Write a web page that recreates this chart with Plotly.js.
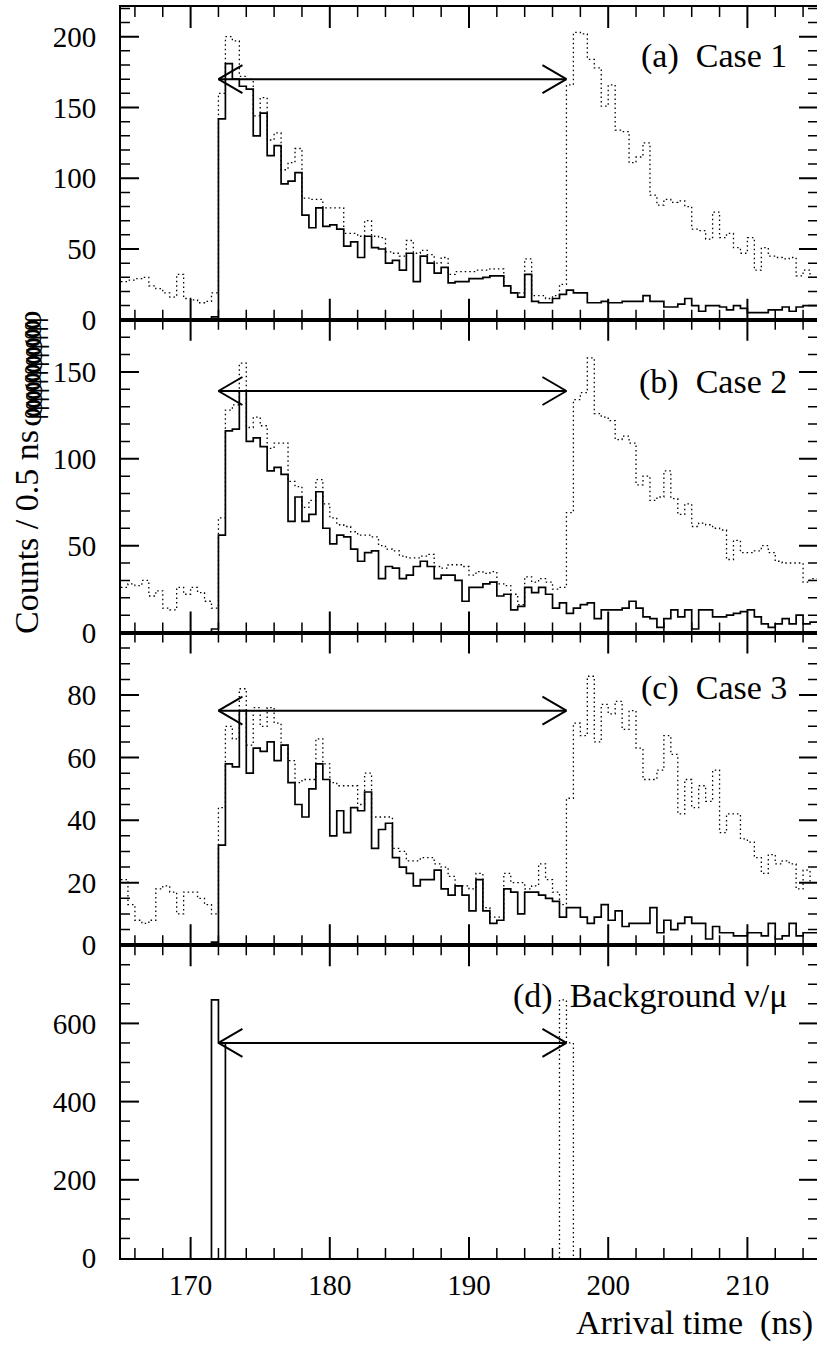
<!DOCTYPE html>
<html><head><meta charset="utf-8">
<script src="https://cdn.plot.ly/plotly-3.0.1.min.js"></script>
<style>
html,body{margin:0;padding:0;background:#fff}
#chart{width:817px;height:1349px}
#chart text{font-family:'Liberation Serif',serif !important}
</style>
</head><body><div id="chart"></div>
<script>
// ---- data (counts per 0.5 ns bin) ----
const binWidth = 0.5;
const timeRange = [165, 215];
const solidStart = 171.5;   // first bin edge of solid histograms (a-c)
const dottedStart = 165;    // first bin edge of dotted histograms (a-c)

const solidA = [2,142,181,170,165,163,130,146,116,
  123,96,98,104,74,65,79,66,67,64,
  52,55,44,59,51,50,40,42,35,47,
  27,45,40,33,37,26,27,27,29,29,
  30,31,31,24,19,16,32,13,12,12,
  15,18,21,19,19,12,12,13,12,12,
  13,13,13,17,13,13,9,9,11,15,
  10,6,10,10,9,7,10,8,5,5,
  5,7,7,9,6,9,10,10];
const dottedA = [27,28,29,30,24,22,19,16,32,15,
  14,12,13,19,160,200,197,172,170,144,
  157,127,132,106,111,121,86,85,85,79,
  79,79,61,61,59,70,59,58,48,47,
  45,56,47,49,46,40,44,32,34,34,
  34,35,35,36,36,24,19,19,43,17,
  17,15,17,25,166,203,202,184,178,151,
  166,134,133,111,115,125,88,81,85,83,
  84,80,64,63,57,76,58,61,51,47,
  58,35,51,45,44,43,44,31,35,30];

const solidB = [2,56,116,117,139,110,112,107,93,
  95,91,64,78,64,68,81,60,51,56,
  55,48,41,46,47,31,38,37,31,33,
  38,41,38,31,33,33,30,18,26,26,
  28,29,21,22,13,15,26,23,26,22,
  14,17,11,14,16,17,8,13,13,13,
  14,18,14,9,8,3,8,13,9,13,
  2,13,13,9,9,10,11,12,13,9,
  5,3,5,8,5,10,5,6];
const dottedB = [26,28,27,30,21,24,14,13,26,22,
  26,23,18,14,66,128,131,155,118,124,
  119,106,109,109,87,84,72,76,88,74,
  66,62,61,58,56,56,55,50,48,47,
  44,43,43,44,45,38,37,39,39,38,
  33,35,34,35,28,27,22,16,32,29,
  31,29,25,26,69,134,138,158,126,124,
  122,111,113,109,85,90,76,78,93,77,
  68,74,61,63,62,60,59,42,53,46,
  46,47,50,46,41,40,40,40,29,31];

const solidC = [1,32,58,57,75,55,63,62,65,
  59,64,52,45,41,50,58,53,35,43,
  36,44,43,49,31,37,39,28,25,23,
  19,21,21,24,18,16,19,16,11,21,
  11,7,8,18,17,10,17,17,16,15,
  14,9,12,12,9,7,9,13,8,11,
  6,7,7,7,12,4,8,5,7,9,
  7,7,2,6,4,4,3,3,4,4,
  3,7,2,3,7,3,4,4];
const dottedC = [21,13,8,7,8,18,19,17,10,17,
  17,15,13,10,44,70,66,82,64,76,
  70,76,71,64,59,52,53,53,66,58,
  52,51,51,51,45,55,41,41,41,31,
  30,27,27,28,28,26,25,22,19,19,
  18,23,12,9,9,23,20,20,18,19,
  26,21,17,13,47,71,67,86,65,77,
  74,78,69,75,63,53,53,56,67,61,
  42,53,44,51,46,56,36,42,42,34,
  33,28,23,29,26,27,26,18,24,20];

const solidDStart = 171.5;
const solidD = [660, 550];
const dottedDStart = 196.5;
const dottedD = [660, 550];

const panelLabels = ['(a)\u00a0 Case 1', '(b)\u00a0 Case 2', '(c)\u00a0 Case 3', '(d)\u00a0 Background \u03bd/\u03bc'];
const yRanges = [[0, 221], [0, 180], [0, 99.99], [0, 799.9]];
const yMajor = [50, 50, 20, 200];
const yMinor = [10, 10, 5, 50];
const xMajor = 10, xMinor = 2;
const arrowTimes = [172, 197];
const arrowLevels = [170, 139, 75, 550];
const xTitle = 'Arrival time\u00a0 (ns)';
const yTitle = 'Counts / 0.5 ns';

// ---- drawing ----
const fontFam = 'Liberation Serif';
const black = 'rgb(0,0,0)';
const plotW = 696, panelH = 1251 / 4;
function stepXY(start, values, closeEnd, lead) {
  const xs = [], ys = [];
  if (lead) { xs.push(start); ys.push(0); }
  values.forEach((v, i) => { xs.push(start + i * binWidth); ys.push(v); });
  const end = start + values.length * binWidth;
  xs.push(end); ys.push(values[values.length - 1]);
  if (closeEnd) { xs.push(end); ys.push(0); }
  return {xs, ys};
}
const panels = [
  {solid: stepXY(solidStart, solidA, false, true), dotted: stepXY(dottedStart, dottedA, false, false)},
  {solid: stepXY(solidStart, solidB, false, true), dotted: stepXY(dottedStart, dottedB, false, false)},
  {solid: stepXY(solidStart, solidC, false, true), dotted: stepXY(dottedStart, dottedC, false, false)},
  {solid: stepXY(solidDStart, solidD, true, true), dotted: stepXY(dottedDStart, dottedD, true, true)}
];

const traces = [];
const layout = {
  width: 817, height: 1349,
  margin: {l: 121, r: 0, t: 7, b: 91},
  paper_bgcolor: 'white', plot_bgcolor: 'white',
  showlegend: false,
  font: {family: fontFam, size: 29, color: black},
  shapes: [], annotations: []
};
const yPx = y => (1258 - y) / 1251;   // pixel row -> paper fraction
const xPx = x => (x - 121) / 696;
const labelRows = [56, 382, 688, 996];

panels.forEach((pn, p) => {
  const sfx = p === 0 ? '' : String(p + 1);
  const xa = 'x' + sfx, ya = 'y' + sfx;
  const yDom = [(3 - p) * 0.25, (4 - p) * 0.25];
  traces.push({type: 'scatter', mode: 'lines', x: pn.dotted.xs, y: pn.dotted.ys, xaxis: xa, yaxis: ya,
    line: {shape: 'hv', color: black, width: 1.3, dash: '1.5px,3px'}, hoverinfo: 'skip'});
  traces.push({type: 'scatter', mode: 'lines', x: pn.solid.xs, y: pn.solid.ys, xaxis: xa, yaxis: ya,
    line: {shape: 'hv', color: black, width: 1.7}, hoverinfo: 'skip'});

  // inward tick marks on all four sides, drawn as line segments on the panel's own scales
  const ySpan = yRanges[p][1] - yRanges[p][0];
  const xSpan = timeRange[1] - timeRange[0];
  const yTop = yRanges[p][1], yBot = yRanges[p][0];
  const tk = {major: {x: [], y: []}, minor: {x: [], y: []}};
  for (let t = Math.ceil(timeRange[0] / xMinor) * xMinor; t < timeRange[1]; t += xMinor) {
    const kind = t % xMajor === 0 ? 'major' : 'minor';
    const d = (kind === 'major' ? 21 : 10) / panelH * ySpan;
    tk[kind].x.push(t, t, null, t, t, null);
    tk[kind].y.push(yBot, yBot + d, null, yTop, yTop - d, null);
  }
  for (let v = yMinor[p]; v < yRanges[p][1]; v += yMinor[p]) {
    const kind = v % yMajor[p] === 0 ? 'major' : 'minor';
    const d = (kind === 'major' ? 18 : 9) / plotW * xSpan;
    tk[kind].x.push(timeRange[0], timeRange[0] + d, null, timeRange[1], timeRange[1] - d, null);
    tk[kind].y.push(v, v, null, v, v, null);
  }
  traces.push({type: 'scatter', mode: 'lines', x: tk.minor.x, y: tk.minor.y, xaxis: xa, yaxis: ya,
    connectgaps: false, line: {color: black, width: 1.5}, hoverinfo: 'skip', cliponaxis: true});
  traces.push({type: 'scatter', mode: 'lines', x: tk.major.x, y: tk.major.y, xaxis: xa, yaxis: ya,
    connectgaps: false, line: {color: black, width: 2}, hoverinfo: 'skip', cliponaxis: true});

  layout['xaxis' + sfx] = {domain: [0, 1], anchor: ya, range: timeRange,
    showline: true, linewidth: 2, linecolor: black, mirror: true, ticks: '',
    tick0: 0, dtick: xMajor, showticklabels: p === 3, showgrid: false, zeroline: false,
    tickfont: {family: fontFam, size: 29, color: black}};
  layout['yaxis' + sfx] = {domain: yDom, anchor: xa, range: yRanges[p],
    showline: true, linewidth: 2, linecolor: black, mirror: true, ticks: '',
    tick0: 0, dtick: yMajor[p], ticksuffix: '\u2002\u200a', showgrid: false, zeroline: false,
    tickfont: {family: fontFam, size: 29, color: black}};

  // double-headed arrow
  const lv = arrowLevels[p];
  layout.shapes.push({type: 'line', xref: xa, yref: ya, x0: arrowTimes[0], x1: arrowTimes[1], y0: lv, y1: lv,
    line: {color: black, width: 2}});
  [[arrowTimes[0], 1], [arrowTimes[1], -1]].forEach(([t, dir]) => {
    [14, -14].forEach(dy => {
      layout.shapes.push({type: 'line', xref: xa, yref: ya, xsizemode: 'pixel', ysizemode: 'pixel',
        xanchor: t, yanchor: lv, x0: 0, y0: 0, x1: 24 * dir, y1: dy, line: {color: black, width: 2}});
    });
  });
  layout.annotations.push({xref: 'paper', yref: 'paper', x: xPx(789), y: yPx(labelRows[p]),
    xanchor: 'right', yanchor: 'middle', showarrow: false, text: panelLabels[p],
    font: {family: fontFam, size: 34, color: black}});
});

layout.annotations.push({xref: 'paper', yref: 'paper', x: xPx(815), y: yPx(1323), xanchor: 'right', yanchor: 'middle',
  showarrow: false, text: xTitle, font: {family: fontFam, size: 34, color: black}});
layout.annotations.push({xref: 'paper', yref: 'paper', x: xPx(26), y: yPx(532), xanchor: 'center', yanchor: 'middle',
  showarrow: false, textangle: -90, text: yTitle, font: {family: fontFam, size: 34, color: black}});
// overlapping glyph stack left of the upper y-axis
for (let i = 0; i < 12; i++) {
  layout.annotations.push({xref: 'paper', yref: 'paper', x: xPx(30), y: yPx(320 + i * 8.8), xanchor: 'center', yanchor: 'middle',
    showarrow: false, textangle: -90, text: '\u03c6', font: {family: fontFam, size: 34, color: black}});
}

Plotly.newPlot('chart', traces, layout, {displayModeBar: false});
</script>
</body></html>
